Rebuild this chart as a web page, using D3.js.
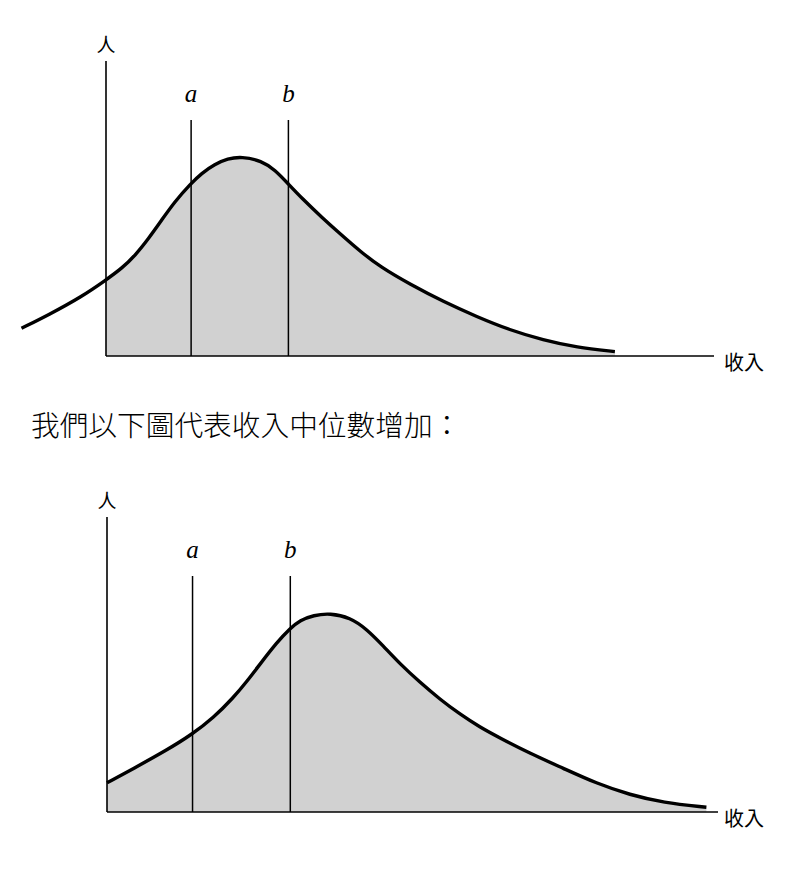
<!DOCTYPE html>
<html>
<head>
<meta charset="utf-8">
<script src="https://cdn.jsdelivr.net/npm/d3@7"></script>
<style>
  html, body { margin: 0; padding: 0; background: #fff; }
  svg { display: block; }
</style>
</head>
<body>
<svg id="chart" width="800" height="875"></svg>
<script>
// ---- data (income units 0..100 along x, people units 0..100 along y) ----
const topIncome    = [-13.9, -9.5, -4.0, 0, 2.6, 4.8, 7.0, 9.2, 11.3, 13.9, 15.7, 17.9, 20.0, 22.3, 25.6, 27.8, 30.0, 32.2, 35.5, 38.8, 41.8, 45.1, 50.0, 55.5, 61.0, 66.4, 71.9, 77.4, 83.7];
const topPeople    = [9.4, 13.9, 20.1, 25.8, 29.7, 34.1, 39.8, 46.2, 52.3, 58.3, 61.9, 65.0, 66.9, 67.6, 66.2, 63.1, 58.3, 53.5, 47.0, 40.9, 35.5, 30.2, 24.3, 18.4, 13.3, 8.8, 5.4, 2.9, 1.5];
const bottomIncome = [0, 4.3, 9.8, 13.9, 17.4, 20.7, 22.9, 25.0, 27.8, 30.0, 31.6, 33.8, 36.5, 39.8, 42.5, 45.2, 48.0, 51.2, 54.5, 57.8, 61.0, 64.3, 69.2, 74.7, 80.1, 85.6, 91.0, 98.1];
const bottomPeople = [9.9, 14.7, 21.0, 26.3, 31.9, 38.8, 44.3, 50.0, 57.5, 62.3, 65.0, 66.7, 67.4, 65.9, 62.0, 56.3, 50.1, 44.0, 38.2, 33.1, 28.8, 25.1, 19.9, 14.8, 9.7, 5.8, 3.2, 1.6];
const markerNames  = ["a", "b"];
const markerValues = [14, 30];
const markerTop    = 80;
const yAxisLabel   = "人";
const xAxisLabel   = "收入";
const captionText  = "我們以下圖代表收入中位數增加：";

const svg = d3.select("#chart");
const curve = d3.curveBasis;

function drawPanel(cfg) {
  const x = d3.scaleLinear().domain([0, 100]).range([cfg.x0, cfg.x1]);
  const y = d3.scaleLinear().domain([0, 100]).range([cfg.y0, cfg.y1]);
  const pts = cfg.income.map((v, i) => ({ x: v, y: cfg.people[i] }));
  const g = svg.append("g");

  // shaded area (only right of the y axis)
  const area = d3.area()
    .x(d => x(d.x)).y0(y(0)).y1(d => y(d.y))
    .curve(curve);
  g.append("path")
    .datum(pts.filter(d => d.x >= 0))
    .attr("d", area)
    .attr("fill", "#d1d1d1");

  // axes
  g.append("line")
    .attr("x1", x(0)).attr("x2", x(0))
    .attr("y1", y(0)).attr("y2", y(100))
    .attr("stroke", "#000").attr("stroke-width", 1.6);
  g.append("line")
    .attr("x1", x(0)).attr("x2", x(100))
    .attr("y1", y(0)).attr("y2", y(0))
    .attr("stroke", "#000").attr("stroke-width", 1.6);

  // markers a, b
  markerValues.forEach((m, i) => {
    g.append("line")
      .attr("x1", x(m)).attr("x2", x(m))
      .attr("y1", y(0)).attr("y2", y(markerTop))
      .attr("stroke", "#000").attr("stroke-width", 1.5);
    g.append("text")
      .attr("x", x(m)).attr("y", y(markerTop) - 18)
      .attr("text-anchor", "middle")
      .attr("font-family", "'Liberation Serif', 'DejaVu Serif', serif")
      .attr("font-style", "italic")
      .attr("font-size", 25)
      .text(markerNames[i]);
  });

  // curve
  const line = d3.line()
    .x(d => x(d.x)).y(d => y(d.y))
    .curve(curve);
  g.append("path")
    .datum(pts)
    .attr("d", line)
    .attr("fill", "none")
    .attr("stroke", "#000")
    .attr("stroke-width", 3.4);

  // axis labels
  g.append("text")
    .attr("x", x(0)).attr("y", y(100) - 9)
    .attr("text-anchor", "middle")
    .attr("font-family", "'Noto Sans CJK TC', sans-serif")
    .attr("font-size", 19)
    .text(yAxisLabel);
  g.append("text")
    .attr("x", 724).attr("y", y(0) + 14)
    .attr("font-family", "'Noto Sans CJK TC', sans-serif")
    .attr("font-size", 20)
    .text(xAxisLabel);
}

drawPanel({ income: topIncome, people: topPeople, x0: 106, x1: 714, y0: 356, y1: 61 });
drawPanel({ income: bottomIncome, people: bottomPeople, x0: 107, x1: 718, y0: 812, y1: 517 });

svg.append("text")
  .attr("x", 31).attr("y", 436)
  .attr("font-family", "'Noto Sans CJK TC', sans-serif")
  .attr("font-size", 28.7)
  .attr("font-weight", 300)
  .text(captionText);
</script>
</body>
</html>
